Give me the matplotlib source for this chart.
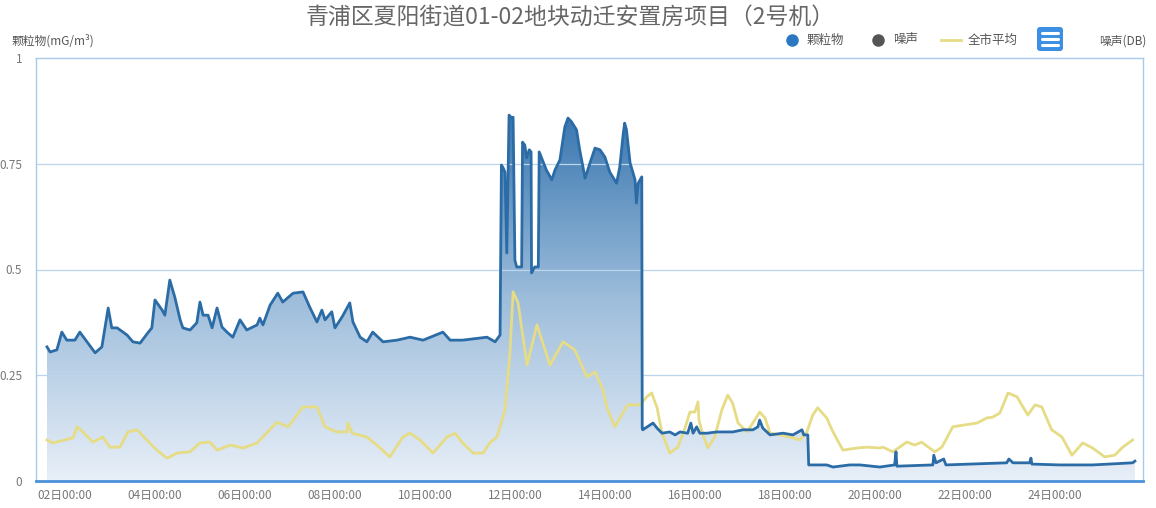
import matplotlib
matplotlib.use('Agg')
import matplotlib.pyplot as plt
import numpy as np
from matplotlib.colors import LinearSegmentedColormap
from matplotlib.patches import FancyBboxPatch, Polygon
from matplotlib.lines import Line2D

plt.rcParams['font.family'] = ['Noto Sans CJK SC', 'DejaVu Sans']

# 颗粒物 (mg/m3), time as day of month
pm_days = [1.60, 1.67, 1.82, 1.93, 2.04, 2.22, 2.33, 2.49, 2.67, 2.82, 2.96, 3.04, 3.16, 3.38,
           3.51, 3.67, 3.84, 3.93, 4.00, 4.16, 4.22, 4.33, 4.44, 4.56, 4.62, 4.78, 4.93, 5.00,
           5.07, 5.18, 5.27, 5.38, 5.49, 5.60, 5.73, 5.89, 6.04, 6.27, 6.33, 6.40, 6.56, 6.73,
           6.84, 7.07, 7.29, 7.44, 7.60, 7.71, 7.78, 7.93, 8.00, 8.16, 8.33, 8.40, 8.56, 8.71,
           8.84, 9.07, 9.38, 9.67, 9.96, 10.40, 10.56, 10.84, 11.38, 11.56, 11.67,
           11.70, 11.74, 11.78, 11.82, 11.87, 11.93, 11.96, 12.00, 12.04, 12.15, 12.17, 12.22,
           12.26, 12.32, 12.36, 12.37, 12.44, 12.52, 12.54, 12.63, 12.70, 12.82, 12.89, 13.00,
           13.11, 13.18, 13.26, 13.37, 13.44, 13.56, 13.67, 13.78, 13.89, 14.00, 14.11, 14.26,
           14.33, 14.41, 14.44, 14.48, 14.56, 14.67, 14.70, 14.74, 14.82,
           14.83, 14.84, 15.00, 15.07, 15.16, 15.27, 15.44, 15.56, 15.67, 15.84, 15.91, 15.96,
           16.04, 16.11, 16.27, 16.49, 16.71, 16.84, 17.07, 17.29, 17.40, 17.44, 17.51, 17.67,
           17.96, 18.18, 18.38, 18.42, 18.51, 18.53, 18.93, 19.07, 19.44, 19.67, 20.11, 20.44,
           20.47, 20.49, 21.29, 21.31, 21.36, 21.53, 21.58, 22.93, 22.98, 23.07, 23.44, 23.47,
           23.49, 24.11, 24.84, 25.73, 25.78]
pm_vals = [0.317, 0.305, 0.310, 0.352, 0.333, 0.333, 0.352, 0.329, 0.303, 0.317, 0.409, 0.362,
           0.362, 0.345, 0.329, 0.326, 0.350, 0.362, 0.428, 0.404, 0.392, 0.475, 0.435, 0.381,
           0.362, 0.357, 0.374, 0.423, 0.392, 0.392, 0.362, 0.409, 0.364, 0.352, 0.340, 0.381,
           0.357, 0.369, 0.385, 0.369, 0.416, 0.444, 0.423, 0.444, 0.447, 0.411, 0.376, 0.404,
           0.381, 0.400, 0.362, 0.388, 0.421, 0.376, 0.340, 0.329, 0.352, 0.329, 0.333, 0.340,
           0.333, 0.352, 0.333, 0.333, 0.340, 0.329, 0.345,
           0.747, 0.740, 0.730, 0.539, 0.865, 0.858, 0.860, 0.522, 0.506, 0.506, 0.801, 0.794,
           0.764, 0.783, 0.778, 0.492, 0.506, 0.506, 0.778, 0.754, 0.735, 0.712, 0.735, 0.759,
           0.837, 0.858, 0.849, 0.830, 0.783, 0.716, 0.752, 0.787, 0.783, 0.766, 0.730, 0.704,
           0.742, 0.823, 0.846, 0.830, 0.752, 0.712, 0.657, 0.704, 0.719,
           0.125, 0.121, 0.132, 0.137, 0.125, 0.113, 0.116, 0.109, 0.116, 0.113, 0.137, 0.113,
           0.128, 0.113, 0.113, 0.116, 0.116, 0.116, 0.121, 0.121, 0.128, 0.144, 0.125, 0.109,
           0.113, 0.109, 0.121, 0.109, 0.109, 0.038, 0.038, 0.033, 0.038, 0.038, 0.033, 0.038,
           0.069, 0.035, 0.038, 0.061, 0.043, 0.052, 0.038, 0.043, 0.052, 0.043, 0.043, 0.054,
           0.040, 0.038, 0.038, 0.043, 0.047]

# 全市平均
avg_days = [1.60, 1.73, 2.18, 2.27, 2.40, 2.62, 2.84, 3.00, 3.22, 3.40, 3.60, 3.82, 4.04, 4.27,
            4.49, 4.78, 5.00, 5.22, 5.38, 5.67, 5.96, 6.27, 6.71, 6.96, 7.29, 7.60, 7.78, 8.04,
            8.27, 8.29, 8.38, 8.71, 8.93, 9.22, 9.51, 9.67, 9.89, 10.18, 10.49, 10.67, 10.84,
            11.07, 11.29, 11.44, 11.60, 11.78, 11.89, 11.96, 12.07, 12.27, 12.49, 12.60, 12.78,
            13.07, 13.33, 13.60, 13.78, 13.96, 14.04, 14.22, 14.40, 14.51, 14.78, 14.93, 15.04,
            15.16, 15.27, 15.44, 15.62, 15.78, 15.89, 16.00, 16.07, 16.09, 16.18, 16.29, 16.44,
            16.60, 16.73, 16.84, 16.96, 17.16, 17.33, 17.44, 17.56, 17.67, 17.89, 18.18, 18.33,
            18.49, 18.62, 18.73, 18.93, 19.07, 19.29, 19.60, 19.82, 20.11, 20.18, 20.40, 20.71,
            20.89, 21.04, 21.33, 21.49, 21.73, 21.96, 22.27, 22.49, 22.62, 22.78, 22.96, 23.16,
            23.40, 23.56, 23.71, 23.93, 24.16, 24.38, 24.62, 24.84, 25.11, 25.33, 25.51, 25.73]
avg_vals = [0.097, 0.090, 0.102, 0.128, 0.116, 0.092, 0.104, 0.080, 0.080, 0.116, 0.121, 0.097,
            0.073, 0.054, 0.066, 0.069, 0.090, 0.092, 0.073, 0.085, 0.078, 0.090, 0.139, 0.128,
            0.175, 0.175, 0.128, 0.116, 0.116, 0.137, 0.113, 0.104, 0.085, 0.057, 0.104, 0.113,
            0.097, 0.066, 0.104, 0.113, 0.090, 0.066, 0.066, 0.090, 0.104, 0.168, 0.303, 0.447,
            0.421, 0.274, 0.369, 0.333, 0.274, 0.329, 0.310, 0.246, 0.258, 0.215, 0.175, 0.128,
            0.161, 0.180, 0.180, 0.199, 0.208, 0.173, 0.113, 0.066, 0.080, 0.125, 0.163, 0.163,
            0.187, 0.144, 0.109, 0.078, 0.104, 0.168, 0.203, 0.184, 0.137, 0.116, 0.144, 0.163,
            0.149, 0.113, 0.109, 0.102, 0.097, 0.116, 0.156, 0.173, 0.149, 0.116, 0.073, 0.078,
            0.080, 0.078, 0.080, 0.069, 0.092, 0.085, 0.092, 0.069, 0.080, 0.128, 0.132, 0.137,
            0.149, 0.151, 0.161, 0.208, 0.199, 0.156, 0.180, 0.175, 0.121, 0.104, 0.061, 0.090,
            0.078, 0.057, 0.061, 0.080, 0.097]

tick_days = [2, 4, 6, 8, 10, 12, 14, 16, 18, 20, 22, 24]
tick_labels = ['%02d日00:00' % d for d in tick_days]
y_ticks = [0, 0.25, 0.5, 0.75, 1]
y_labels = ['0', '0.25', '0.5', '0.75', '1']

fig = plt.figure(figsize=(11.56, 5.08), dpi=100)
ax = fig.add_axes([36 / 1156, 27 / 508, 1107 / 1156, 423 / 508])
ax.set_xlim(1.356, 25.96)
ax.set_ylim(0, 1)

# gradient fill under pm line
x = np.array(pm_days)
y = np.array(pm_vals)
ymax = y.max()
cmap = LinearSegmentedColormap.from_list('g', ['#e8eff8', '#9dbddb', '#3a77b0'])
grad = np.linspace(0, 1, 256).reshape(-1, 1)
im = ax.imshow(grad, extent=[x[0], x[-1], 0, ymax], origin='lower', aspect='auto',
               cmap=cmap, zorder=1)
poly = Polygon(np.column_stack([np.r_[x[0], x, x[-1]], np.r_[0, y, 0]]),
               closed=True, facecolor='none', edgecolor='none')
ax.add_patch(poly)
im.set_clip_path(poly)

for v in [0.25, 0.5, 0.75]:
    ax.axhline(v, color='#bcd5ec', lw=0.9, zorder=2)

ax.plot(avg_days, avg_vals, color='#e6dc85', lw=2, zorder=3)
ax.plot(pm_days, pm_vals, color='#2b6ca6', lw=2, zorder=4)

for s in ['left', 'top', 'right']:
    ax.spines[s].set_color('#a8cae8')
    ax.spines[s].set_linewidth(1)
ax.spines['bottom'].set_color('#4a90d9')
ax.spines['bottom'].set_linewidth(2)

ax.set_xticks(tick_days)
ax.set_xticklabels(tick_labels)
ax.set_yticks(y_ticks)
ax.set_yticklabels(y_labels)
ax.tick_params(length=0, labelsize=8.5, colors='#777777')
ax.tick_params(axis='y', pad=10)
ax.tick_params(axis='x', pad=6)

# texts and legend (figure pixel coords overlay)
ov = fig.add_axes([0, 0, 1, 1], zorder=10)
ov.set_xlim(0, 1156)
ov.set_ylim(508, 0)
ov.axis('off')

ov.text(570, 18, '青浦区夏阳街道01-02地块动迁安置房项目（2号机）', ha='center', va='center',
        fontsize=16.5, color='#666666')
ov.text(12, 41, '颗粒物(mG/m³)', ha='left', va='center', fontsize=8.5, color='#555555')
ov.text(1146, 41, '噪声(DB)', ha='right', va='center', fontsize=8.5, color='#555555')

ov.plot([792], [40], 'o', ms=8, color='#2b78c2')
ov.text(807, 40, '颗粒物', ha='left', va='center', fontsize=9, color='#555555')
ov.plot([878], [40], 'o', ms=8, color='#555555')
ov.text(893, 40, '噪声', ha='left', va='center', fontsize=9, color='#555555')
ov.add_line(Line2D([941, 961], [40, 40], color='#e6dc85', lw=2))
ov.text(968, 40, '全市平均', ha='left', va='center', fontsize=9, color='#555555')

btn = FancyBboxPatch((1037, 27), 26, 24, boxstyle='round,pad=0,rounding_size=3',
                     facecolor='#3d8fe3', edgecolor='none')
ov.add_patch(btn)
for yy in [33, 39, 45]:
    ov.add_line(Line2D([1042, 1058], [yy, yy], color='white', lw=2.2, solid_capstyle='round'))

fig.savefig('out.png', dpi=100)
